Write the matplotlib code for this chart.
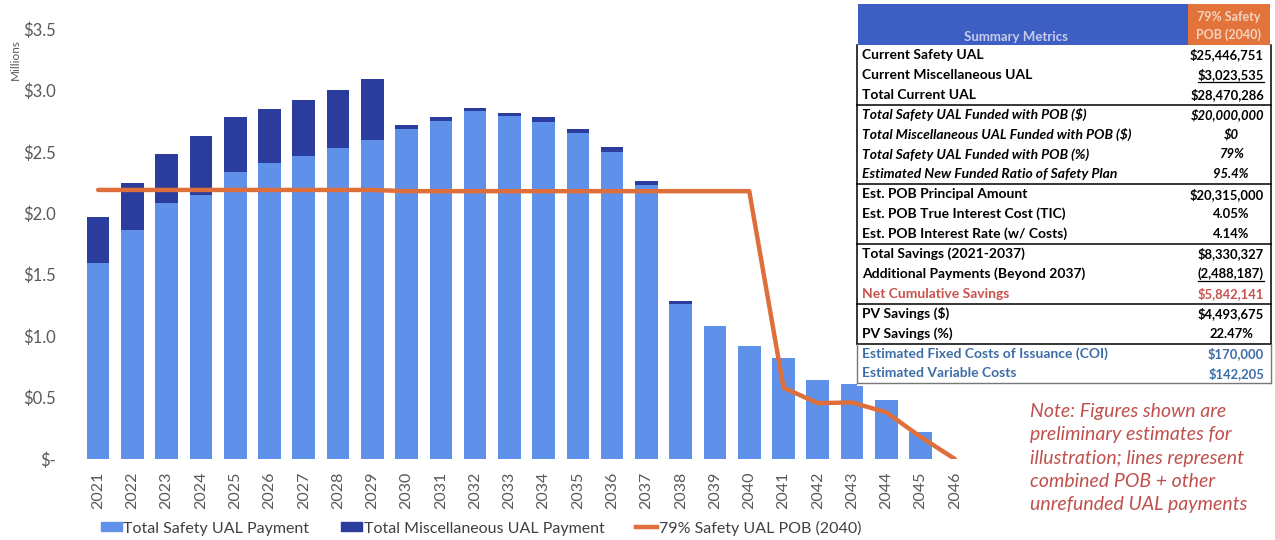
import matplotlib
matplotlib.use("Agg")
import matplotlib.pyplot as plt
from matplotlib.patches import Rectangle
from matplotlib.lines import Line2D
import numpy as np

plt.rcParams['font.family'] = ['Lato', 'DejaVu Sans']

years = [str(y) for y in range(2021, 2047)]
safety = [1.595, 1.86, 2.08, 2.15, 2.34, 2.41, 2.47, 2.53, 2.60, 2.69, 2.75, 2.83, 2.79,
          2.74, 2.65, 2.50, 2.23, 1.26, 1.08, 0.92, 0.82, 0.64, 0.61, 0.48, 0.22, 0.0]
misc = [0.375, 0.39, 0.40, 0.48, 0.44, 0.44, 0.45, 0.47, 0.49, 0.03, 0.03, 0.03, 0.03,
        0.04, 0.04, 0.04, 0.03, 0.03, 0.0, 0.0, 0.0, 0.0, 0.0, 0.0, 0.0, 0.0]
pob = [2.19, 2.19, 2.19, 2.19, 2.19, 2.19, 2.19, 2.19, 2.19, 2.18, 2.18, 2.18, 2.18,
       2.18, 2.18, 2.18, 2.18, 2.18, 2.18, 2.18, 0.58, 0.455, 0.46, 0.38, 0.18, 0.0]
yticks = [0, 0.5, 1.0, 1.5, 2.0, 2.5, 3.0, 3.5]
ytick_labels = ['$-', '$0.5', '$1.0', '$1.5', '$2.0', '$2.5', '$3.0', '$3.5']

table_rows = [
    ("Current Safety UAL", "$25,446,751", "b"),
    ("Current Miscellaneous UAL", "$3,023,535", "bu"),
    ("Total Current UAL", "$28,470,286", "b"),
    ("Total Safety UAL Funded with POB ($)", "$20,000,000", "i"),
    ("Total Miscellaneous UAL Funded with POB ($)", "$0", "ic"),
    ("Total Safety UAL Funded with POB (%)", "79%", "ic"),
    ("Estimated New Funded Ratio of Safety Plan", "95.4%", "ic"),
    ("Est. POB Principal Amount", "$20,315,000", "b"),
    ("Est. POB True Interest Cost (TIC)", "4.05%", "bc"),
    ("Est. POB Interest Rate (w/ Costs)", "4.14%", "bc"),
    ("Total Savings (2021-2037)", "$8,330,327", "b"),
    ("Additional Payments (Beyond 2037)", "(2,488,187)", "bu"),
    ("Net Cumulative Savings", "$5,842,141", "r"),
    ("PV Savings ($)", "$4,493,675", "b"),
    ("PV Savings (%)", "22.47%", "bc"),
    ("Estimated Fixed Costs of Issuance (COI)", "$170,000", "l"),
    ("Estimated Variable Costs", "$142,205", "l"),
]
note = ("Note: Figures shown are\npreliminary estimates for\nillustration; lines represent\n"
        "combined POB + other\nunrefunded UAL payments")

W, H = 1275, 540
fig = plt.figure(figsize=(W / 100, H / 100), dpi=100)
fig.patch.set_facecolor('white')

ax = fig.add_axes([81 / W, 1 - 459 / H, (972 - 81) / W, (459 - 29) / H])
x = np.arange(len(years))
c_light = '#5f91ea'
c_dark = '#2a3c9c'
c_line = '#df6f3a'
ax.bar(x, safety, width=0.66, color=c_light, label='Total Safety UAL Payment', zorder=2)
ax.bar(x, misc, width=0.66, bottom=safety, color=c_dark, label='Total Miscellaneous UAL Payment', zorder=2)
ax.plot(x, pob, color=c_line, lw=3.2, label='79% Safety UAL POB (2040)', zorder=3,
        solid_capstyle='round', solid_joinstyle='round')
ax.set_xlim(-0.5, len(years) - 0.5)
ax.set_ylim(0, 3.5)
ax.set_yticks(yticks)
ax.set_yticklabels(ytick_labels)
ax.set_xticks(x)
ax.set_xticklabels(years, rotation=90)
for s in ax.spines.values():
    s.set_visible(False)
ax.tick_params(axis='both', length=0, colors='#595959')
ax.tick_params(axis='y', pad=18, labelsize=12)
ax.tick_params(axis='x', pad=9, labelsize=11.5)
fig.text(15 / W, 1 - 60 / H, 'Millions', rotation=90, ha='center', va='center',
         fontsize=8.5, color='#595959')

handles = [Rectangle((0, 0), 1, 1, color=c_light), Rectangle((0, 0), 1, 1, color=c_dark),
           Line2D([], [], color=c_line, lw=3.2)]
labels = ['Total Safety UAL Payment', 'Total Miscellaneous UAL Payment', '79% Safety UAL POB (2040)']
fig.legend(handles, labels, loc='center', bbox_to_anchor=(481 / W, 1 - 528 / H), ncol=3,
           frameon=False, fontsize=11.5, handlelength=1.3, handleheight=0.5, handletextpad=0.1,
           columnspacing=2.0, labelcolor='#404040')

# overlay in pixel coords for table and note
ov = fig.add_axes([0, 0, 1, 1], zorder=5)
ov.set_xlim(0, W)
ov.set_ylim(H, 0)
ov.axis('off')
ov.patch.set_alpha(0)

tx0, tx1 = 857, 1271
ov.add_patch(Rectangle((tx0, 3), tx1 - tx0, 383, facecolor='white', edgecolor='none'))
ov.add_patch(Rectangle((858, 4), 330, 41, facecolor='#3d5fc4', edgecolor='none'))
ov.add_patch(Rectangle((1188, 4), 82, 41, facecolor='#e2733a', edgecolor='none'))
ov.text(1016, 37, 'Summary Metrics', ha='center', va='center', color='#c8cde8', fontsize=9.5,
        fontweight='bold')
ov.text(1229, 26, '79% Safety\nPOB (2040)', ha='center', va='center', color='#f3d3c0', fontsize=9,
        fontweight='bold', linespacing=1.5)

row0 = 45
rh = 19.9
fs_lab = 10
fs_val = 9.4
underline = []
for i, (lab, val, st) in enumerate(table_rows):
    yc = row0 + rh * (i + 0.5)
    color = 'black'
    style = 'normal'
    if 'i' in st:
        style = 'italic'
    if 'r' in st:
        color = '#c9524d'
    if 'l' in st:
        color = '#3d6da6'
    ov.text(862, yc, lab, ha='left', va='center', fontsize=fs_lab, fontweight='bold',
            fontstyle=style, color=color)
    if 'c' in st:
        t = ov.text(1231, yc, val, ha='center', va='center', fontsize=fs_val, fontweight='bold',
                    fontstyle=style, color=color)
    else:
        t = ov.text(1264, yc, val, ha='right', va='center', fontsize=fs_val, fontweight='bold',
                    fontstyle=style, color=color)
    if 'u' in st:
        underline.append((t, yc))

# section dividers
for k in [3, 7, 10, 13, 15]:
    yy = row0 + rh * k
    ov.plot([tx0, tx1], [yy, yy], color='black', lw=1.1)
ov.plot([tx0, tx0], [45, row0 + rh * 15], color='black', lw=1.1)
ov.plot([tx1, tx1], [45, row0 + rh * 15], color='black', lw=1.1)
ov.plot([tx0, tx0], [row0 + rh * 15, row0 + rh * 17], color='#777777', lw=1.0)
ov.plot([tx1, tx1], [row0 + rh * 15, row0 + rh * 17], color='#777777', lw=1.0)
ov.plot([tx0, tx1], [row0 + rh * 17, row0 + rh * 17], color='#777777', lw=1.0)

fig.canvas.draw()
r = fig.canvas.get_renderer()
inv = ov.transData.inverted()
for t, yc in underline:
    bb = t.get_window_extent(r)
    (xa, _), (xb, _) = inv.transform([(bb.x0, bb.y0), (bb.x1, bb.y0)])
    ov.plot([xa, xb], [yc + 7.5, yc + 7.5], color='black', lw=0.9)

ov.text(1030, 403, note, ha='left', va='top', fontsize=14, fontstyle='italic',
        color='#c0504d', linespacing=1.45)

fig.savefig('out.png', dpi=100, facecolor='white')
